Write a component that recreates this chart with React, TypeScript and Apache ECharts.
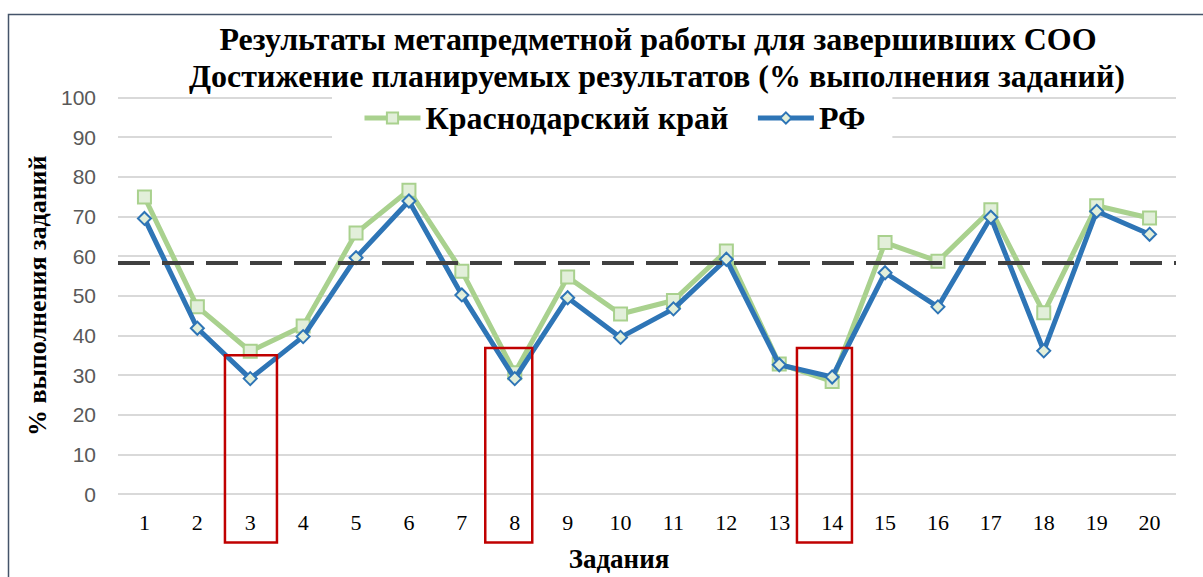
import React, { useEffect, useRef } from "react";
import * as echarts from "echarts";

const categories = ["1","2","3","4","5","6","7","8","9","10","11","12","13","14","15","16","17","18","19","20"];
const krasnodar = [74.9, 47.2, 36.0, 42.4, 65.8, 76.6, 56.2, 30.6, 54.7, 45.4, 48.8, 61.3, 32.8, 28.4, 63.4, 58.7, 71.7, 45.7, 72.7, 69.6];
const rf = [69.5, 41.8, 29.1, 39.7, 59.6, 73.9, 50.2, 29.1, 49.5, 39.5, 46.7, 59.2, 32.6, 29.5, 55.8, 47.2, 69.8, 36.1, 71.3, 65.5];
const thresholdValue = 58.3;
const seriesNames = ["Краснодарский край", "РФ"];
const titleLines = [
  "Результаты метапредметной работы для завершивших СОО",
  "Достижение планируемых результатов (% выполнения заданий)",
];
const yAxisName = "% выполнения заданий";
const xAxisName = "Задания";
// highlighted tasks: category, top value of the box
const highlightCats = ["3", "8", "14"];
const highlightTops = [35.0, 36.8, 36.8];

const SERIF = '"Liberation Serif", "Times New Roman", serif';

export default function App() {
  const ref = useRef<HTMLDivElement>(null);
  useEffect(() => {
    if (!ref.current) return;
    const chart = echarts.init(ref.current, undefined, { renderer: "svg" });
    const baseGraphic: any[] = [
      {
        id: "frame",
        type: "rect",
        silent: true,
        shape: { x: 8.5, y: 14.5, width: 1400, height: 800 },
        style: { fill: "none", stroke: "#44546a", lineWidth: 1.5 },
      },
      {
        id: "t1",
        type: "text",
        x: 658,
        y: 39,
        style: {
          text: titleLines[0],
          font: "bold 32px " + SERIF,
          fill: "#000",
          textAlign: "center",
          textVerticalAlign: "middle",
        },
      },
      {
        id: "t2",
        type: "text",
        x: 657,
        y: 76,
        style: {
          text: titleLines[1],
          font: "bold 32px " + SERIF,
          fill: "#000",
          textAlign: "center",
          textVerticalAlign: "middle",
        },
      },
    ];
    const option: any = {
      animation: false,
      backgroundColor: "#fff",
      grid: { left: 118, right: 27, top: 97.5, bottom: 80, containLabel: false },
      legend: {
        data: seriesNames,
        left: 332,
        top: 94,
        padding: [8, 27, 8, 30],
        backgroundColor: "#fff",
        itemWidth: 56,
        itemHeight: 14,
        itemGap: 27,
        lineStyle: { width: 5 },
        textStyle: { fontFamily: SERIF, fontWeight: "bold", fontSize: 32, color: "#000" },
      },
      xAxis: {
        type: "category",
        data: categories,
        boundaryGap: true,
        axisLine: { show: false },
        axisTick: { show: false },
        axisLabel: { fontFamily: SERIF, fontSize: 22, color: "#000", margin: 17 },
        name: xAxisName,
        nameLocation: "middle",
        nameGap: 51,
        nameTextStyle: {
          fontFamily: SERIF,
          fontWeight: "bold",
          fontSize: 27,
          color: "#000",
          padding: [0, 56, 0, 0],
        },
      },
      yAxis: {
        type: "value",
        min: 0,
        max: 100,
        interval: 10,
        axisLine: { show: false },
        axisTick: { show: false },
        splitLine: { lineStyle: { color: "#d9d9d9", width: 2 } },
        axisLabel: { fontFamily: '"Liberation Sans", Arial, sans-serif', fontSize: 21, color: "#595959", margin: 22 },
        name: yAxisName,
        nameLocation: "middle",
        nameRotate: 90,
        nameGap: 67,
        nameTextStyle: { fontFamily: SERIF, fontWeight: "bold", fontSize: 26, color: "#000" },
      },
      series: [
        {
          name: seriesNames[0],
          type: "line",
          data: krasnodar,
          symbol: "rect",
          symbolSize: 13,
          z: 2,
          lineStyle: { color: "#a9d18e", width: 5 },
          itemStyle: { color: "#e2efda", borderColor: "#a9d18e", borderWidth: 2 },
          markLine: {
            silent: true,
            symbol: ["none", "none"],
            label: { show: false },
            lineStyle: { color: "#404040", width: 4, type: [32, 12] },
            data: [{ yAxis: thresholdValue }],
          },
        },
        {
          name: seriesNames[1],
          type: "line",
          data: rf,
          symbol: "diamond",
          symbolSize: 13,
          z: 3,
          lineStyle: { color: "#2e75b6", width: 5 },
          itemStyle: { color: "#e2efda", borderColor: "#2e75b6", borderWidth: 2 },
        },
      ],
      graphic: baseGraphic,
    };
    chart.setOption(option);

    const boxOffsets = [0.7, -6, -7.7];
    const boxWidths = [52, 47, 55];
    const boxes = highlightCats.map((c, i) => {
      const px = chart.convertToPixel({ xAxisIndex: 0 }, c) as number;
      const top = chart.convertToPixel({ yAxisIndex: 0 }, highlightTops[i]) as number;
      const bottom = 542.5;
      const cx = px + boxOffsets[i];
      return {
        id: "box" + i,
        type: "rect",
        silent: true,
        z: 100,
        shape: { x: cx - boxWidths[i] / 2, y: top, width: boxWidths[i], height: bottom - top },
        style: { fill: "none", stroke: "#c00000", lineWidth: 2.5 },
      };
    });
    chart.setOption({ graphic: [...baseGraphic, ...boxes] });

    return () => chart.dispose();
  }, []);
  return (
    <div
      ref={ref}
      style={{ position: "fixed", left: 0, top: 0, width: 1203, height: 577 }}
    />
  );
}
